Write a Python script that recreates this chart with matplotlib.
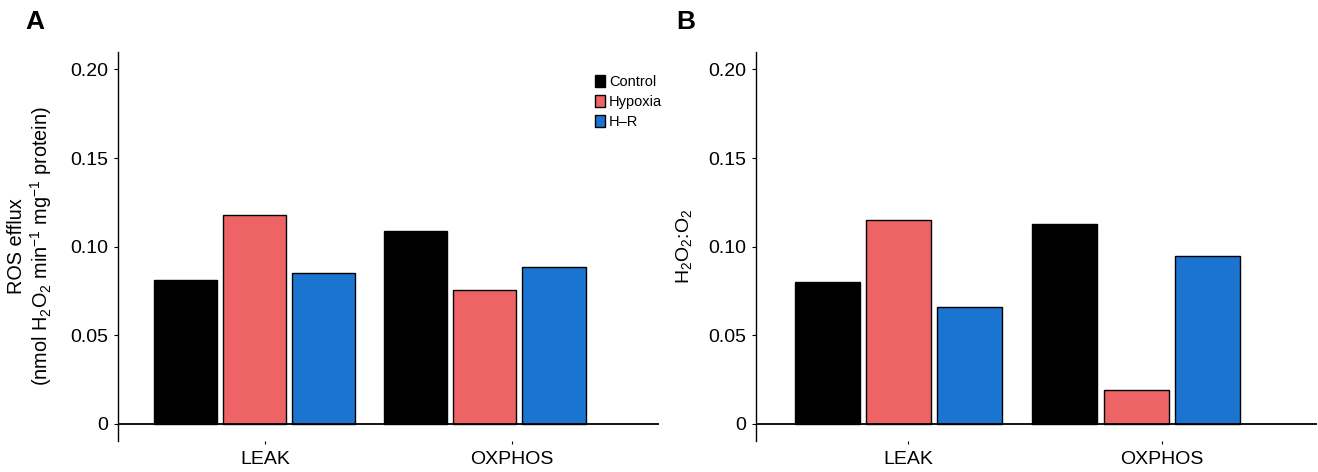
import matplotlib
matplotlib.use("Agg")
import matplotlib.pyplot as plt
import numpy as np

plt.rcParams['font.family'] = ['Liberation Sans', 'DejaVu Sans']
plt.rcParams['mathtext.fontset'] = 'custom'
plt.rcParams['mathtext.rm'] = 'Liberation Sans'
plt.rcParams['mathtext.it'] = 'Liberation Sans'

# data
states = ["LEAK", "OXPHOS"]
groups = ["Control", "Hypoxia", "H\u2013R"]
ros_efflux = {
    "Control": [0.081, 0.109],
    "Hypoxia": [0.118, 0.0755],
    "H\u2013R": [0.085, 0.0887],
}
h2o2_o2 = {
    "Control": [0.080, 0.113],
    "Hypoxia": [0.115, 0.019],
    "H\u2013R": [0.066, 0.095],
}
colors = {"Control": "#000000", "Hypoxia": "#EE6466", "H\u2013R": "#1B75D0"}

W, H = 1318, 472
fig = plt.figure(figsize=(W / 100, H / 100), dpi=100)


def px_axes(left, right, top, bottom):
    return fig.add_axes([left / W, (H - bottom) / H, (right - left) / W, (bottom - top) / H])


def draw_panel(ax, values, xlim, tick_pos):
    x = np.arange(len(states))
    offset = 0.30
    width = 0.274
    for i, g in enumerate(groups):
        ax.bar(x + (i - 1) * offset, values[g], width=width, color=colors[g],
               edgecolor="black", linewidth=1.0, label=g, zorder=2)
    ax.axhline(0, color="black", linewidth=1.3, zorder=3)
    ax.set_xlim(*xlim)
    ax.set_ylim(-0.0096, 0.2098)
    ax.set_yticks([0, 0.05, 0.10, 0.15, 0.20])
    ax.set_yticklabels(["0", "0.05", "0.10", "0.15", "0.20"])
    ax.set_xticks(tick_pos)
    ax.set_xticklabels(states)
    for s in ["top", "right", "bottom"]:
        ax.spines[s].set_visible(False)
    ax.spines["left"].set_linewidth(1.0)
    ax.tick_params(axis="y", labelsize=14, length=3, width=0.8, pad=4)
    ax.tick_params(axis="x", labelsize=14, length=2, width=0.8, pad=5)


axA = px_axes(118, 659, 52, 441)
draw_panel(axA, ros_efflux, (-0.594, 1.756), [0.044, 1.116])
axA.set_ylabel("ROS efflux\n(nmol H$_2$O$_2$ min$^{-1}$ mg$^{-1}$ protein)",
               fontsize=14.3, labelpad=12, linespacing=1.1)
leg = axA.legend(loc="upper left", bbox_to_anchor=(0.87, 0.955), frameon=False,
                 fontsize=10.5, handlelength=0.7, handleheight=0.9,
                 handletextpad=0.3, labelspacing=0.4, borderaxespad=0)

axB = px_axes(756, 1317, 52, 441)
draw_panel(axB, h2o2_o2, (-0.599, 1.76), [0.04, 1.108])
axB.set_ylabel("H$_2$O$_2$:O$_2$", fontsize=14, labelpad=10)

fig.text(35 / W, 1 - 22 / H, "A", fontsize=19, fontweight="bold", ha="center", va="center")
fig.text(686 / W, 1 - 22 / H, "B", fontsize=19, fontweight="bold", ha="center", va="center")

fig.savefig("out.png", dpi=100)
